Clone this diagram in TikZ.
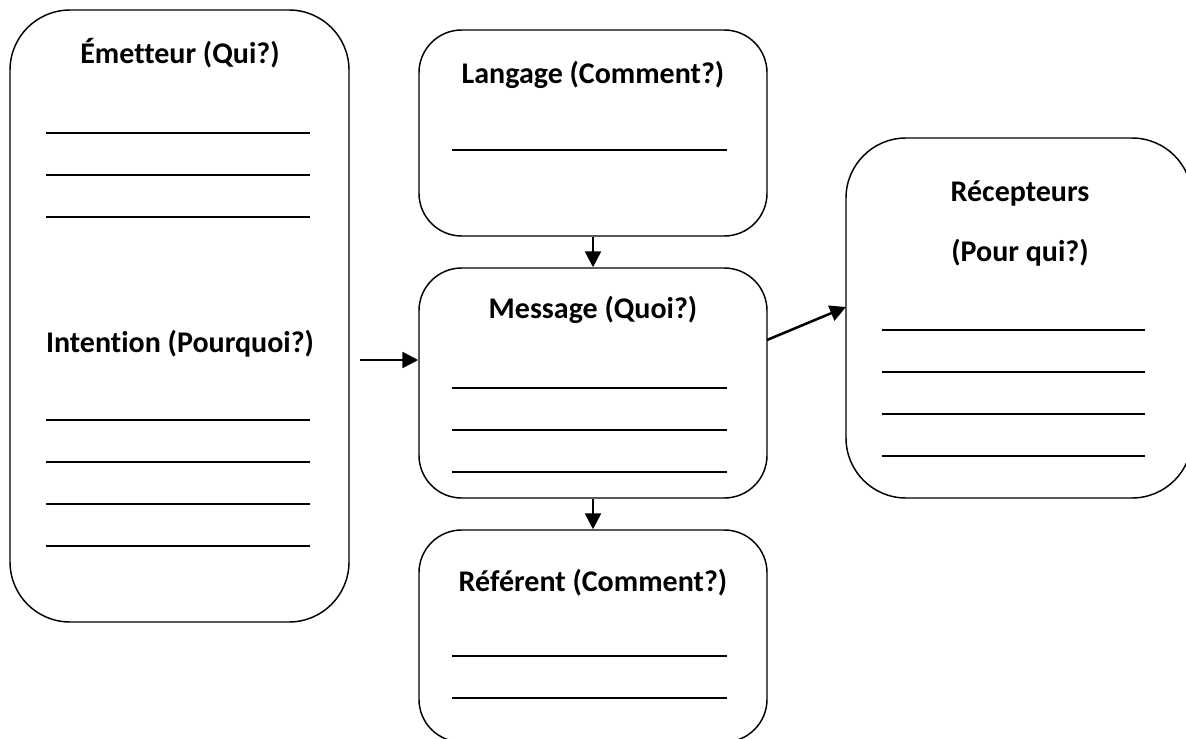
\documentclass[tikz,border=0pt]{standalone}
\usepackage{fontspec}
\setmainfont{Carlito}[Ligatures=NoCommon]
\usetikzlibrary{arrows.meta}
\begin{document}
\begin{tikzpicture}[x=0.75pt,y=-0.75pt,
  card/.style={draw,line width=1.1pt,fill=white,inner sep=0pt},
  title/.style={font=\bfseries\fontsize{22.5pt}{26pt}\selectfont,inner sep=0pt,anchor=center},
  blank/.style={line width=1.6pt},
  flow/.style={line width=1.9pt,-{Triangle[length=12pt,width=12pt]}}]
\useasboundingbox (0,0) rectangle (1186,739);
\clip (0,0) rectangle (1186,739);
% boxes
\node[card,rounded corners=45pt,minimum width={339*0.75pt},minimum height={612*0.75pt}] (emit) at (179.5,316) {};
\node[card,rounded corners=32pt,minimum width={348*0.75pt},minimum height={206*0.75pt}] (lang) at (593,133) {};
\node[card,rounded corners=32pt,minimum width={348*0.75pt},minimum height={230*0.75pt}] (msg) at (593,383) {};
\node[card,rounded corners=32pt,minimum width={348*0.75pt},minimum height={212*0.75pt}] (ref) at (593,636) {};
\node[card,rounded corners=45pt,minimum width={346*0.75pt},minimum height={360*0.75pt}] (recv) at (1019,318) {};
% titles
\node[title] (t1) at (180,53) {Émetteur (Qui?)};
\node[title] (t2) at (180,344) {Intention (Pourquoi?)};
\node[title] (t3) at (593,75) {Langage (Comment?)};
\node[title] (t4) at (593,310) {Message (Quoi?)};
\node[title] (t5) at (593,583) {Référent (Comment?)};
\node[title] (t6) at (1020,193) {Récepteurs};
\node[title] (t7) at (1020,253) {(Pour qui?)};
% blanks to fill in
\foreach \y in {133,175,217,420,462,504,546} \draw[blank] (46,\y) -- (310,\y);
\draw[blank] (452,150) -- (727,150);
\foreach \y in {388,430,472} \draw[blank] (452,\y) -- (727,\y);
\foreach \y in {656,698} \draw[blank] (452,\y) -- (727,\y);
\foreach \y in {330,372,414,456} \draw[blank] (882,\y) -- (1145,\y);
% connectors
\coordinate (in) at (360,360);
\draw[flow] (in) -- (in -| msg.west);
\draw[flow] (lang.south) -- (msg.north);
\draw[flow] (msg.south) -- (ref.north);
\coordinate (out) at (767,340);
\coordinate (hit) at (846,307);
\draw[flow] (out) -- (hit);
\end{tikzpicture}
\end{document}
